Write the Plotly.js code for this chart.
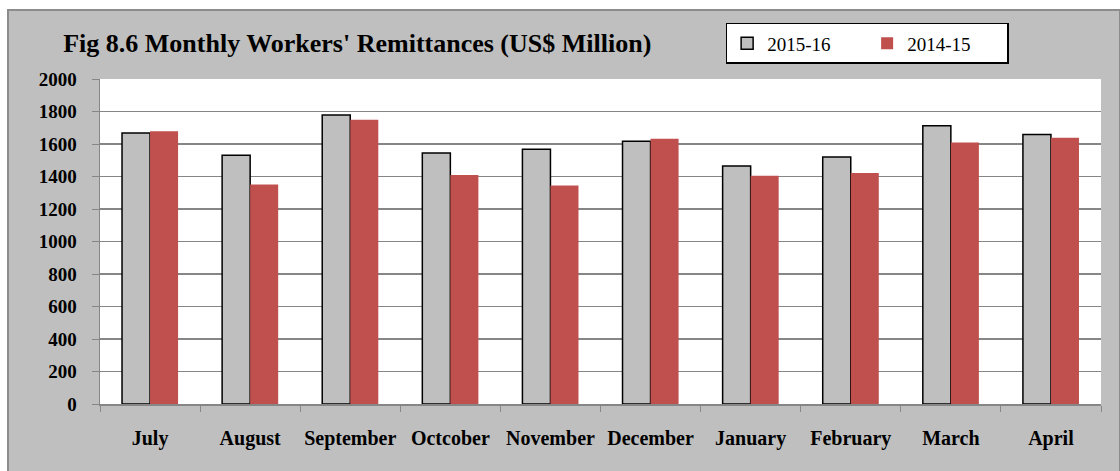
<!DOCTYPE html>
<html>
<head>
<meta charset="utf-8">
<script src="https://cdn.plot.ly/plotly-3.0.1.min.js"></script>
<style>
  body { margin: 0; background: #ffffff; }
  #frame {
    position: absolute; left: 7px; top: 9px; width: 1110px; height: 470px;
    background: #bfbfbf; border: 2px solid #8c8c8c;
  }
  #chart { position: absolute; left: 0; top: 0; width: 1120px; height: 471px; }
</style>
</head>
<body>
<div id="frame"></div>
<div id="chart"></div>
<script>
// monthly workers' remittances, US$ million
const months = ['July', 'August', 'September', 'Octcober', 'November', 'December',
                'January', 'February', 'March', 'April'];
const fy2016 = [1667, 1531, 1778, 1545, 1567, 1617, 1465, 1520, 1713, 1659];
const fy2015 = [1678, 1351, 1750, 1410, 1345, 1633, 1404, 1422, 1610, 1639];
const yTicks = [0, 200, 400, 600, 800, 1000, 1200, 1400, 1600, 1800, 2000];

const serif = 'Liberation Serif';

const traces = [
  {
    x: months, y: fy2016, type: 'bar', name: '2015-16',
    marker: { color: '#bfbfbf', line: { color: '#000000', width: 1.5 } }
  },
  {
    x: months, y: fy2015, type: 'bar', name: '2014-15',
    marker: { color: '#c0504d', line: { width: 0 } }
  }
];

const layout = {
  width: 1120, height: 471,
  margin: { l: 100, r: 19, t: 78.5, b: 66.5 },
  paper_bgcolor: 'rgba(0,0,0,0)',
  plot_bgcolor: '#ffffff',
  barmode: 'group', bargap: 0.44, bargroupgap: 0,
  font: { family: serif, color: '#000000' },
  title: {
    text: "Fig 8.6 Monthly Workers' Remittances (US$ Million)",
    font: { family: serif, size: 26, weight: 'bold', color: '#000000' },
    xref: 'container', yref: 'container',
    x: 0.319, xanchor: 'center', y: 0.909, yanchor: 'middle'
  },
  showlegend: true,
  legend: {
    orientation: 'h', x: 0.625, xanchor: 'left', y: 1.173, yanchor: 'top',
    bgcolor: '#ffffff', bordercolor: '#000000', borderwidth: 1.5,
    font: { family: serif, size: 19, color: '#000000' },
    itemwidth: 30, entrywidth: 95, entrywidthmode: 'pixels', traceorder: 'normal'
  },
  xaxis: {
    type: 'category', tickson: 'boundaries', ticks: 'outside', ticklen: 6,
    tickcolor: '#868686', showgrid: false, tickangle: 0,
    showline: true, linecolor: '#868686', linewidth: 1.5,
    tickfont: { family: serif, size: 20, weight: 'bold' },
    ticklabelstandoff: 15
  },
  yaxis: {
    range: [0, 2000], tickvals: yTicks, ticks: 'outside', ticklen: 7,
    tickcolor: '#868686', showgrid: true, gridcolor: '#868686', gridwidth: 1.5,
    showline: true, linecolor: '#868686', linewidth: 1.5, zeroline: false,
    tickfont: { family: serif, size: 19, weight: 'bold' },
    ticklabelstandoff: 11
  }
};

Plotly.newPlot('chart', traces, layout, { displayModeBar: false, staticPlot: true });
</script>
</body>
</html>
